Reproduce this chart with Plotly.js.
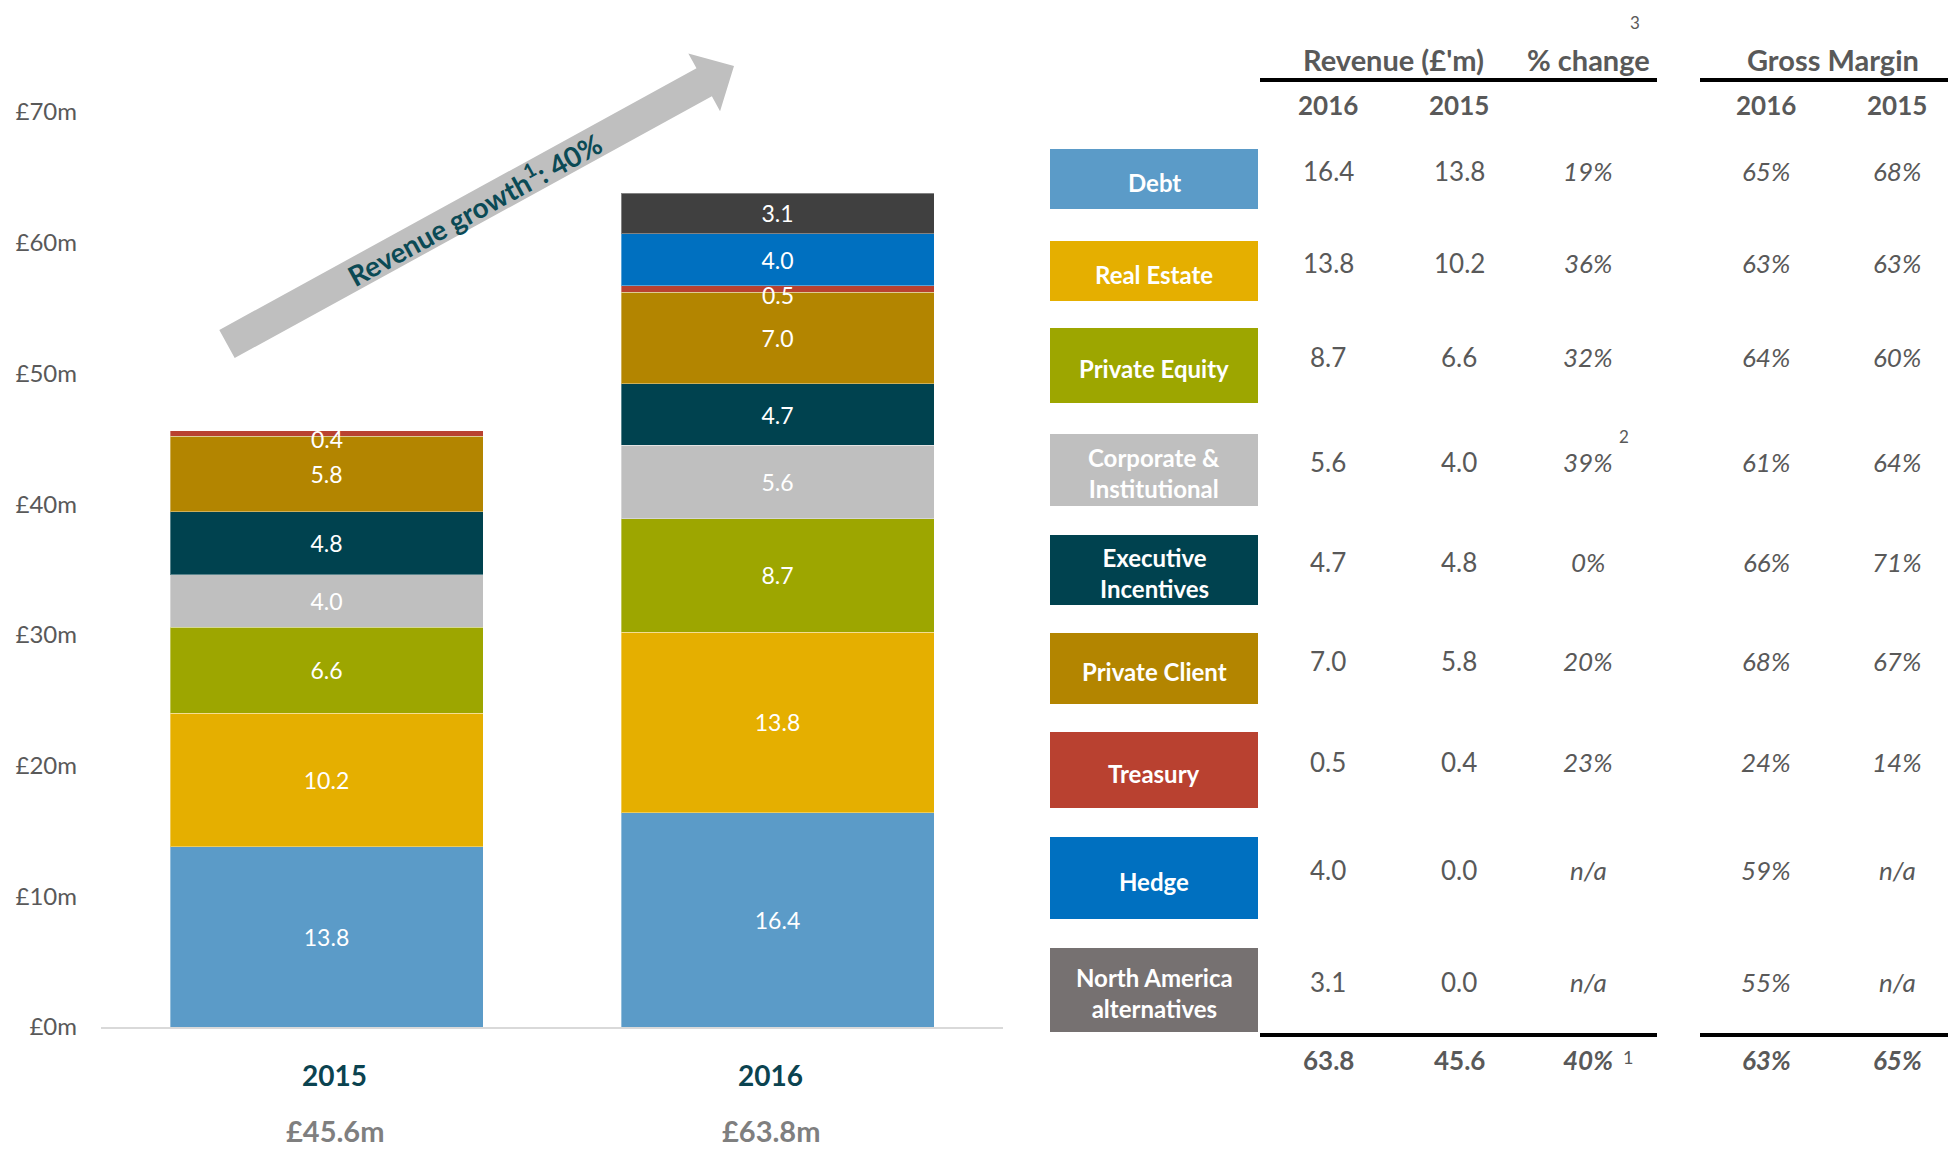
<!DOCTYPE html>
<html>
<head>
<meta charset="utf-8">
<script src="https://cdn.plot.ly/plotly-3.0.1.min.js"></script>
<style>html,body{margin:0;padding:0;background:#fff;}#chart{width:1948px;height:1149px;}</style>
</head>
<body>
<div id="chart"></div>
<script>
// ---------- DATA ----------
const categories = ['2015', '2016'];
const segments = ['Debt', 'Real Estate', 'Private Equity', 'Corporate & Institutional',
  'Executive Incentives', 'Private Client', 'Treasury', 'Hedge', 'North America alternatives'];
const boxLabels = ['Debt', 'Real Estate', 'Private Equity', 'Corporate &<br>Institutional',
  'Executive<br>Incentives', 'Private Client', 'Treasury', 'Hedge', 'North America<br>alternatives'];
const rev2015 = [13.8, 10.2, 6.6, 4.0, 4.8, 5.8, 0.4, 0.0, 0.0];
const rev2016 = [16.4, 13.8, 8.7, 5.6, 4.7, 7.0, 0.5, 4.0, 3.1];
const pctChange = ['19%', '36%', '32%', '39%', '0%', '20%', '23%', 'n/a', 'n/a'];
const gm2016 = ['65%', '63%', '64%', '61%', '66%', '68%', '24%', '59%', '55%'];
const gm2015 = ['68%', '63%', '60%', '64%', '71%', '67%', '14%', 'n/a', 'n/a'];
const totalPct = '40%';
const totalGm2016 = '63%';
const totalGm2015 = '65%';
const yTickVals = [0, 10, 20, 30, 40, 50, 60, 70];
const yTickText = ['£0m', '£10m', '£20m', '£30m', '£40m', '£50m', '£60m', '£70m'];
const growthText = 'Revenue growth<sup>1</sup>: 40%';

// ---------- STYLE ----------
const FONT = 'Lato, "Open Sans", "Noto Sans", sans-serif';
const barColors = ['#5B9BC8', '#E5AF00', '#9DA600', '#BFBFBF', '#00424F', '#B38500', '#B94130', '#0070C0', '#404040'];
const boxColors = ['#5B9BC8', '#E5AF00', '#9DA600', '#BFBFBF', '#00424F', '#B38500', '#B94130', '#0070C0', '#767171'];
const GREY = '#595959';
const TEAL = '#0B4350';

const W = 1948, H = 1149, ML = 101, MR = 0, MT = 10, MB = 122;
const px = x => (x - ML) / (W - ML - MR);
const py = y => (H - MB - y) / (H - MT - MB);

// table layout (pixel positions)
const boxTopBottom = [[149, 209], [241, 301], [328, 403], [434, 506], [535, 605], [633, 704], [732, 808], [837, 919], [948, 1032]];
const boxX = [1050, 1258];
const colX = {r16: 1328, r15: 1459, pct: 1588, g16: 1766, g15: 1897};
const catLabelShift = [8, -7];

// ---------- TRACES ----------
const vals = [rev2015, rev2016];
const traces = segments.map((s, i) => ({
  type: 'bar',
  name: s,
  x: categories,
  y: [rev2015[i], rev2016[i]],
  width: 0.694,
  marker: {color: barColors[i], line: {color: 'rgba(255,255,255,0.35)', width: 1}},
  text: [rev2015[i], rev2016[i]].map(v => v > 0 ? v.toFixed(1) : ''),
  textposition: i === 6 ? 'none' : 'inside',
  insidetextanchor: 'middle',
  constraintext: 'none',
  textfont: {family: FONT, size: 23, color: '#ffffff'},
  hoverinfo: 'skip'
}));

const annotations = [];
const shapes = [];

// Treasury labels (segment too thin for inside text)
categories.forEach((c, k) => {
  const base = vals[k].slice(0, 6).reduce((a, b) => a + b, 0);
  annotations.push({xref: 'x', yref: 'y', x: k, y: base, yshift: -3, showarrow: false,
    xanchor: 'center', yanchor: 'middle',
    text: vals[k][6].toFixed(1), font: {family: FONT, size: 23, color: '#ffffff'}});
});

// category + totals under bars
categories.forEach((c, k) => {
  const tot = vals[k].reduce((a, b) => a + b, 0);
  annotations.push({xref: 'x', yref: 'paper', x: k, xshift: catLabelShift[k], y: py(1075), xanchor: 'center', yanchor: 'middle', showarrow: false,
    text: '<b>' + c + '</b>', font: {family: FONT, size: 28, color: TEAL}});
  annotations.push({xref: 'x', yref: 'paper', x: k, xshift: catLabelShift[k], y: py(1130), xanchor: 'center', yanchor: 'middle', showarrow: false,
    text: '<b>£' + tot.toFixed(1) + 'm</b>', font: {family: FONT, size: 29, color: '#7F7F7F'}});
});

// growth arrow
(function () {
  const T = [227, 344], P = [734, 66];
  const dx = P[0] - T[0], dy = P[1] - T[1], L = Math.hypot(dx, dy);
  const u = [dx / L, dy / L], n = [-u[1], u[0]];
  const hl = 34, sh = 16, hh = 33;
  const B = [P[0] - hl * u[0], P[1] - hl * u[1]];
  const pts = [
    [T[0] + n[0] * sh, T[1] + n[1] * sh], [B[0] + n[0] * sh, B[1] + n[1] * sh],
    [B[0] + n[0] * hh, B[1] + n[1] * hh], P,
    [B[0] - n[0] * hh, B[1] - n[1] * hh], [B[0] - n[0] * sh, B[1] - n[1] * sh],
    [T[0] - n[0] * sh, T[1] - n[1] * sh]];
  const path = 'M ' + pts.map(p => px(p[0]).toFixed(5) + ',' + py(p[1]).toFixed(5)).join(' L ') + ' Z';
  shapes.push({type: 'path', xref: 'paper', yref: 'paper', path: path, fillcolor: '#BFBFBF', line: {width: 0}, layer: 'below'});
  const ang = Math.atan2(dy, dx) * 180 / Math.PI;
  annotations.push({xref: 'paper', yref: 'paper', x: px(474), y: py(209), xanchor: 'center', yanchor: 'middle',
    showarrow: false, textangle: ang,
    text: '<b>' + growthText + '</b>', font: {family: FONT, size: 28, color: '#0B4A55'}});
})();

// ---------- TABLE ----------
function txt(x, y, t, opts) {
  annotations.push(Object.assign({xref: 'paper', yref: 'paper', x: px(x), y: py(y), showarrow: false,
    xanchor: 'center', yanchor: 'middle', text: t, font: {family: FONT, size: 26, color: GREY}}, opts || {}));
}
function hline(x0, x1, y, w) {
  shapes.push({type: 'line', xref: 'paper', yref: 'paper', x0: px(x0), x1: px(x1), y0: py(y), y1: py(y),
    line: {color: '#000000', width: w}});
}
const HDR = {font: {family: FONT, size: 29, color: GREY}};
txt(1393, 60, '<b>Revenue (£\'m)</b>', HDR);
txt(1588, 60, '<b>% change</b>', HDR);
txt(1833, 60, '<b>Gross Margin</b>', HDR);
txt(1635, 22, '3', {font: {family: FONT, size: 17, color: GREY}});
hline(1260, 1657, 80, 4);
hline(1700, 1948, 80, 4);
txt(colX.r16, 105, '<b>' + categories[1] + '</b>');
txt(colX.r15, 105, '<b>' + categories[0] + '</b>');
txt(colX.g16, 105, '<b>' + categories[1] + '</b>');
txt(colX.g15, 105, '<b>' + categories[0] + '</b>');

segments.forEach((s, i) => {
  const [top, bot] = boxTopBottom[i];
  shapes.push({type: 'rect', xref: 'paper', yref: 'paper', x0: px(boxX[0]), x1: px(boxX[1]),
    y0: py(bot), y1: py(top), fillcolor: boxColors[i], line: {width: 0}});
  const cy = (top + bot) / 2;
  txt((boxX[0] + boxX[1]) / 2, cy + 3, '<b>' + boxLabels[i] + '</b>',
    {font: {family: FONT, size: 24, color: '#ffffff'}});
  const vy = cy - 8;
  txt(colX.r16, vy, rev2016[i].toFixed(1));
  txt(colX.r15, vy, rev2015[i].toFixed(1));
  txt(colX.pct, vy, '<i>' + pctChange[i] + '</i>');
  txt(colX.g16, vy, '<i>' + gm2016[i] + '</i>');
  txt(colX.g15, vy, '<i>' + gm2015[i] + '</i>');
});
txt(1624, 436, '2', {font: {family: FONT, size: 17, color: GREY}});

hline(1260, 1657, 1035, 4);
hline(1700, 1948, 1035, 4);
const tot16 = rev2016.reduce((a, b) => a + b, 0), tot15 = rev2015.reduce((a, b) => a + b, 0);
txt(colX.r16, 1060, '<b>' + tot16.toFixed(1) + '</b>');
txt(colX.r15, 1060, '<b>' + tot15.toFixed(1) + '</b>');
txt(colX.pct, 1060, '<b><i>' + totalPct + '</i></b>');
txt(1628, 1057, '1', {font: {family: FONT, size: 18, color: GREY}});
txt(colX.g16, 1060, '<b><i>' + totalGm2016 + '</i></b>');
txt(colX.g15, 1060, '<b><i>' + totalGm2015 + '</i></b>');

// ---------- LAYOUT ----------
const layout = {
  width: W, height: H,
  margin: {l: ML, r: MR, t: MT, b: MB, pad: 0},
  barmode: 'stack',
  showlegend: false,
  paper_bgcolor: '#ffffff', plot_bgcolor: '#ffffff',
  font: {family: FONT, color: GREY},
  xaxis: {domain: [0, px(1003)], range: [-0.5, 1.5], type: 'category', showticklabels: false,
    showline: true, linecolor: '#D9D9D9', linewidth: 2, ticks: '', showgrid: false, zeroline: false, fixedrange: true},
  yaxis: {range: [0, (H - MT - MB) / ((1027 - 112) / 70)], tickvals: yTickVals, ticktext: yTickText,
    showgrid: false, zeroline: false, showline: false, ticks: '', ticklabelstandoff: 23,
    tickfont: {family: FONT, size: 24, color: GREY}, fixedrange: true},
  annotations: annotations,
  shapes: shapes
};

Plotly.newPlot('chart', traces, layout, {displayModeBar: false, staticPlot: true});
</script>
</body>
</html>
